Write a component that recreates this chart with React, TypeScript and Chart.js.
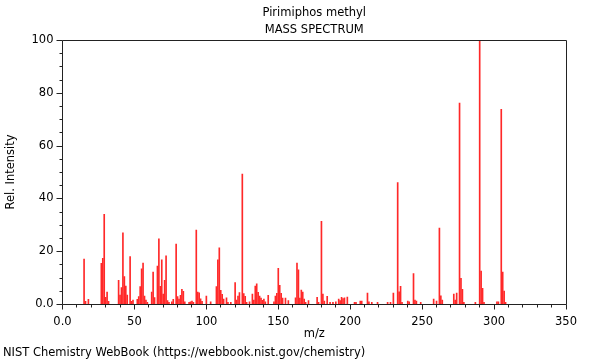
import React, { useEffect, useRef } from 'react';
import { Chart, registerables } from 'chart.js';

Chart.register(...registerables);

const TITLE = 'Pirimiphos methyl';
const SUBTITLE = 'MASS SPECTRUM';
const X_LABEL = 'm/z';
const Y_LABEL = 'Rel. Intensity';
const FOOTER = 'NIST Chemistry WebBook (https://webbook.nist.gov/chemistry)';

const mz = [
  15, 16, 18, 27, 28, 29, 30, 31, 32, 39, 40, 41, 42, 43, 44, 45, 47, 48, 49, 52,
  53, 54, 55, 56, 57, 58, 59, 62, 63, 64, 66, 67, 68, 69, 70, 71, 72, 73, 74, 76,
  77, 79, 80, 81, 82, 83, 84, 85, 88, 89, 90, 91, 93, 94, 95, 96, 97, 100, 103, 107,
  108, 109, 110, 111, 112, 114, 115, 117, 120, 121, 122, 123, 125, 126, 127, 128, 130, 132, 133, 134,
  135, 136, 137, 138, 139, 140, 141, 143, 147, 148, 149, 150, 151, 152, 153, 155, 157, 162, 163, 164,
  165, 166, 167, 168, 169, 171, 177, 178, 180, 181, 182, 184, 186, 188, 190, 192, 193, 194, 195, 196,
  198, 203, 204, 207, 208, 212, 213, 215, 219, 226, 228, 230, 233, 234, 235, 236, 240, 241, 244, 245,
  246, 249, 258, 260, 262, 263, 264, 272, 273, 274, 276, 277, 278, 279, 287, 290, 291, 292, 293, 302,
  303, 305, 306, 307, 308,
];

const intensity = [
  17, 1, 1.8, 15.4, 17.3, 34, 2.5, 4.5, 1, 9, 3.4, 6.2, 27, 10.4, 6.8, 3.4, 18, 1, 1.5, 1.8,
  2.8, 6.6, 13.3, 15.5, 3, 1.5, 0.6, 4.5, 12.1, 2.4, 14.4, 24.7, 6.7, 16.7, 3.8, 9, 18.2, 1.3, 0.6, 0.8,
  1.8, 22.7, 2.8, 1.9, 3.3, 5.6, 4.8, 0.8, 0.6, 0.8, 1.1, 0.6, 28, 4.5, 4.2, 2, 1, 3, 0.8, 6.6,
  16.7, 21.3, 5.2, 3.7, 1.9, 2.3, 0.6, 0.6, 8.1, 1.5, 3, 4.3, 49.2, 3.9, 2.9, 0.6, 0.8, 3.8, 1.5, 6.8,
  7.6, 4.4, 3, 2.2, 1.4, 1.9, 0.8, 3.3, 0.8, 3, 4, 13.5, 7.1, 4, 2.2, 2.2, 1.3, 2.3, 15.5, 12.9,
  2.2, 5.3, 4.5, 1.9, 0.6, 1.3, 2.5, 0.6, 31.3, 3.8, 1.1, 2.9, 0.6, 0.6, 0.8, 1.9, 1.3, 2.5, 2.1, 2.3,
  2.6, 0.6, 0.6, 1.1, 1.1, 4.1, 0.8, 0.6, 0.6, 0.6, 0.6, 4.1, 46, 4.6, 6.7, 0.6, 1.1, 0.8, 11.5, 1.5,
  1.1, 0.6, 1.9, 1.1, 28.8, 3.1, 1.5, 3.8, 1.5, 4.1, 76.1, 9.7, 5.6, 0.6, 0.6, 100, 12.5, 5.9, 0.6, 0.8,
  0.8, 73.7, 12.1, 4.9, 0.6,
];

const X_MIN = 0;
const X_MAX = 350;
const X_MAJOR = 50;
const X_MINOR = 10;
const Y_MIN = 0;
const Y_MAX = 100;
const Y_MAJOR = 20;
const Y_MINOR = 5;

const FONT_FAMILY = '"DejaVu Sans", sans-serif';
const FONT_SIZE = 11.5;
const FONT = `${FONT_SIZE}px ${FONT_FAMILY}`;
const TEXT_COLOR = '#000';
const AXIS_COLOR = '#222';
const BAR_COLOR = 'rgb(255,40,40)';

const fmt = (v: number) => (v === 0 ? '0.0' : String(v));

const decorPlugin = {
  id: 'decor',
  afterDraw(chart: any) {
    const { ctx, chartArea: a, scales } = chart;
    const xs = scales.x;
    const ys = scales.y;
    ctx.save();
    ctx.strokeStyle = AXIS_COLOR;
    ctx.lineWidth = 1;
    const L = Math.floor(a.left) + 0.5;
    const R = Math.round(a.right) + 0.5;
    const T = Math.round(a.top) + 0.5;
    const B = Math.round(a.bottom) + 0.5;
    ctx.beginPath();
    ctx.rect(L, T, R - L, B - T);
    ctx.stroke();
    ctx.beginPath();
    for (let v = X_MIN; v <= X_MAX; v += X_MINOR) {
      const px = Math.floor(xs.getPixelForValue(v)) + 0.5;
      const len = v % X_MAJOR === 0 ? 5 : 3;
      ctx.moveTo(px, B);
      ctx.lineTo(px, B + len);
    }
    for (let v = Y_MIN; v <= Y_MAX; v += Y_MINOR) {
      const py = Math.round(ys.getPixelForValue(v)) + 0.5;
      const len = v % Y_MAJOR === 0 ? 6 : 3;
      ctx.moveTo(L, py);
      ctx.lineTo(L - len, py);
    }
    ctx.stroke();

    ctx.fillStyle = TEXT_COLOR;
    ctx.font = FONT;
    ctx.textAlign = 'center';
    ctx.textBaseline = 'middle';
    const cx = (a.left + a.right) / 2;
    ctx.fillText(TITLE, cx, 13);
    ctx.fillText(SUBTITLE, cx, 30);
    ctx.fillText(X_LABEL, cx, 334);
    ctx.save();
    ctx.translate(11, (a.top + a.bottom) / 2);
    ctx.rotate(-Math.PI / 2);
    ctx.fillText(Y_LABEL, 0, 0);
    ctx.restore();
    ctx.textAlign = 'left';
    ctx.fillText(FOOTER, 3, 353.5);
    ctx.restore();
  },
};

export default function App() {
  const ref = useRef<HTMLCanvasElement | null>(null);

  useEffect(() => {
    if (!ref.current) return;
    const points = mz.map((m, i) => ({ x: m, y: intensity[i] }));
    const chart = new Chart(ref.current, {
      type: 'bar',
      data: {
        datasets: [
          {
            data: points as any,
            backgroundColor: BAR_COLOR,
            borderWidth: 0,
            barThickness: 1,
          },
        ],
      },
      options: {
        animation: false,
        responsive: false,
        devicePixelRatio: 1,
        layout: { padding: { left: 0, right: 34, top: 40, bottom: 0 } },
        plugins: {
          legend: { display: false },
          tooltip: { enabled: false },
          title: { display: false },
        },
        scales: {
          x: {
            type: 'linear',
            min: X_MIN,
            max: X_MAX,
            offset: false,
            afterFit: (s: any) => {
              s.height = 56;
            },
            grid: { display: false, drawTicks: false, offset: false },
            border: { display: false },
            ticks: {
              stepSize: X_MAJOR,
              padding: 11,
              color: TEXT_COLOR,
              font: { family: FONT_FAMILY, size: FONT_SIZE },
              maxRotation: 0,
              autoSkip: false,
              callback: (v: any) => fmt(Number(v)),
            },
          },
          y: {
            type: 'linear',
            min: Y_MIN,
            max: Y_MAX,
            afterFit: (s: any) => {
              s.width = 62.5;
            },
            grid: { display: false, drawTicks: false },
            border: { display: false },
            ticks: {
              stepSize: Y_MAJOR,
              padding: 9,
              color: TEXT_COLOR,
              font: { family: FONT_FAMILY, size: FONT_SIZE },
              callback: (v: any) => fmt(Number(v)),
            },
          },
        },
      } as any,
      plugins: [decorPlugin],
    });
    return () => chart.destroy();
  }, []);

  return (
    <div style={{ position: 'absolute', left: 0, top: 0, width: 600, height: 360, background: '#fff' }}>
      <canvas ref={ref} width={600} height={360} style={{ width: 600, height: 360 }} />
    </div>
  );
}
